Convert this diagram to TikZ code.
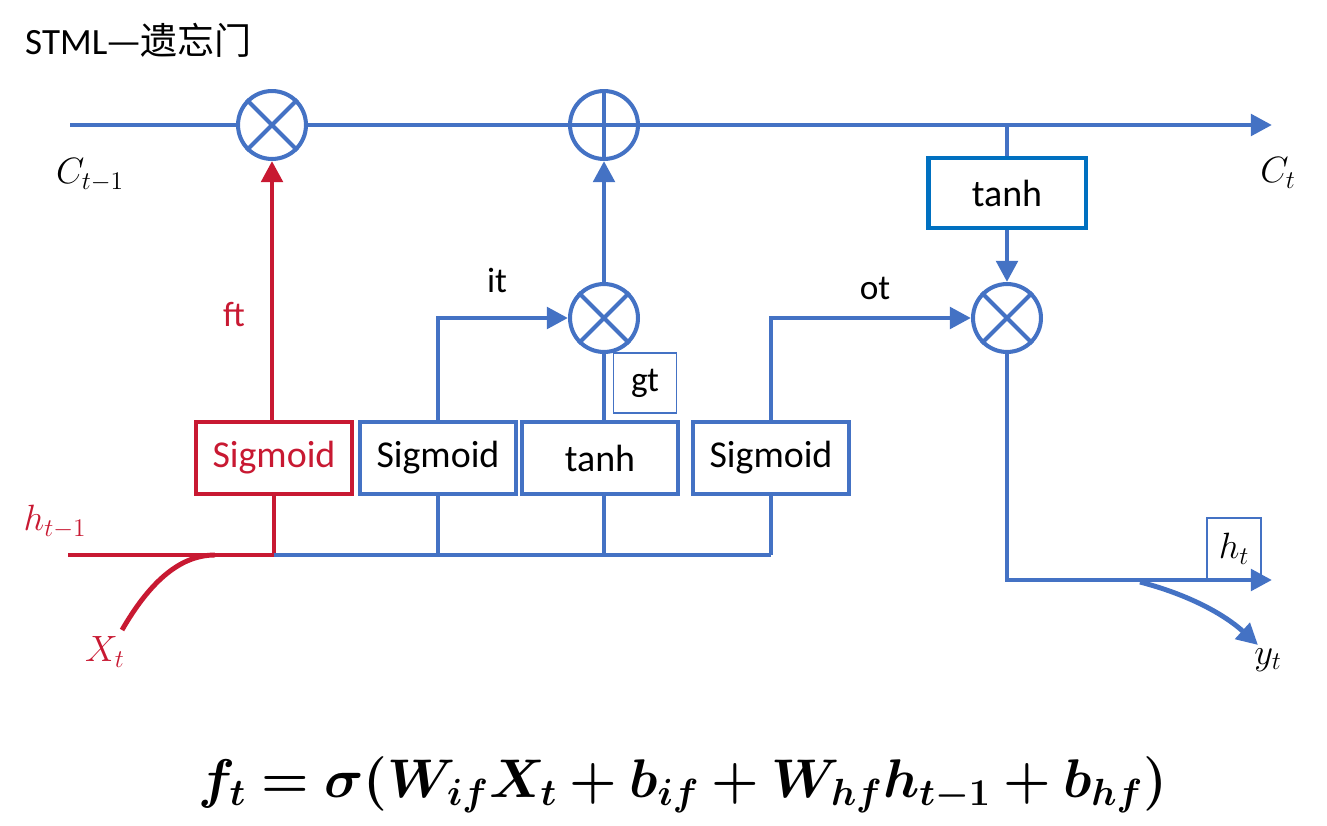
\documentclass[tikz,border=0pt]{standalone}
\usepackage[no-math]{fontspec}
\setmainfont{Carlito}
\newfontfamily\cjk{Noto Sans CJK SC}
\usepackage{amsmath}
\usepackage{bm}
\usepackage{graphicx}
\usetikzlibrary{arrows.meta}
\definecolor{lstmblue}{RGB}{68,114,196}
\definecolor{lstmred}{RGB}{200,25,50}
\definecolor{boxblue}{RGB}{0,112,192}
\tikzset{
  flow/.style={draw=lstmblue, line width=2.8pt},
  redflow/.style={draw=lstmred, line width=2.8pt},
  tip/.style={-{Triangle[length=12pt,width=12pt]}},
  gate/.style={draw=lstmblue, line width=2.3pt, minimum width=88.4pt, minimum height=40.8pt, font=\fontsize{21.5}{25}\selectfont},
  op/.style={circle, draw=lstmblue, line width=2.3pt, minimum size=38.5pt, inner sep=0pt},
  thinbox/.style={draw=lstmblue, line width=0.8pt, font=\fontsize{20}{24}\selectfont},
  lbl/.style={font=\fontsize{20}{24}\selectfont}
}
\begin{document}
\begin{tikzpicture}[x=0.5667pt, y=-0.5667pt]
\useasboundingbox (0,0) rectangle (1327,825);

%%%%------------Title----------------%%
\node [right, font=\fontsize{21}{25}\selectfont] (title) at (19,40) {STML\cjk{—遗忘门}};

%%%%------------Cell state----------------%%
\coordinate (cIn) at (70,125);
\coordinate (cOut) at (1272,125);
\coordinate (cBr) at (1007,125);
\node [op] (mulF) at (272,125) {};
\node [op] (addC) at (604,125) {};
\draw [flow] (cIn) -- (mulF.west);
\draw [flow] (mulF.east) -- (addC.west);
\draw [flow, tip] (addC.east) -- (cOut);
\draw [flow, line width=2.3pt] (mulF.north west) -- (mulF.south east);
\draw [flow, line width=2.3pt] (mulF.north east) -- (mulF.south west);
\draw [flow, line width=2.3pt] (addC.north) -- (addC.south);
\draw [flow, line width=2.3pt] (addC.west) -- (addC.east);
\node [lbl] (cPrev) at (90,175) {$C_{t-1}$};
\node [lbl] (cNext) at (1278,173) {$C_t$};

%%%%------------Gates----------------%%
\node [gate, draw=lstmred, text=lstmred] (sigF) at (274,458) {Sigmoid};
\node [gate] (sigI) at (438,458) {Sigmoid};
\node [gate] (tanhG) at (600,458) {tanh};
\node [gate] (sigO) at (771,458) {Sigmoid};
\node [gate, draw=boxblue, minimum width=89pt, minimum height=39.7pt] (tanhC) at (1007,193) {tanh};

\node [op] (mulI) at (604,318) {};
\node [op] (mulO) at (1007,318) {};
\foreach \m in {mulI,mulO} {
  \draw [flow, line width=2.3pt] (\m.north west) -- (\m.south east);
  \draw [flow, line width=2.3pt] (\m.north east) -- (\m.south west);
}

%%%%------------Forget gate (red)----------------%%
\draw [redflow, tip] (sigF.north -| mulF) -- (mulF.south);
\node [lbl, text=lstmred] (ftLbl) at (234,315) {ft};

%%%%------------Input gate----------------%%
\coordinate (iBend) at (438,318);
\draw [flow, tip] (sigI.north) -- (iBend) -- (mulI.west);
\node [lbl] (itLbl) at (497,280) {it};
\draw [flow] (mulI.south) -- (mulI.south |- tanhG.north);
\node [thinbox, minimum width=35.7pt, minimum height=34pt] (gtBox) at (645,383) {gt};
\draw [flow, tip] (mulI.north) -- (addC.south);

%%%%------------Output gate----------------%%
\coordinate (oBend) at (771,318);
\draw [flow, tip] (sigO.north) -- (oBend) -- (mulO.west);
\node [lbl] (otLbl) at (875,288) {ot};
\draw [flow] (cBr) -- (tanhC.north);
\draw [flow, tip] (tanhC.south) -- (mulO.north);

%%%%------------Input bus----------------%%
\coordinate (hIn) at (68,555);
\coordinate (jF) at (274,555);
\coordinate (jO) at (771,555);
\coordinate (xIn) at (122,630);
\coordinate (xJoin) at (215,555);
\draw [redflow] (hIn) -- (jF);
\draw [redflow] (sigF.south) -- (jF);
\draw [flow] (jF) -- (jO);
\draw [flow] (sigI.south) -- (sigI.south |- jF);
\draw [flow] (mulI.south |- tanhG.south) -- (mulI.south |- jF);
\draw [flow] (sigO.south) -- (jO);
\draw [redflow] (xIn) .. controls (148,585) and (178,555) .. (xJoin);
\node [lbl, text=lstmred] (hPrev) at (55,522) {$h_{t-1}$};
\node [lbl, text=lstmred] (xLbl) at (105,652) {$X_t$};

%%%%------------Output----------------%%
\coordinate (hBend) at (1007,580);
\coordinate (hOut) at (1272,580);
\coordinate (yFrom) at (1140,582);
\coordinate (yTo) at (1258,645);
\draw [flow, tip] (mulO.south) -- (hBend) -- (hOut);
\draw [flow, tip] (yFrom) .. controls (1190,595) and (1225,615) .. (yTo);
\node [thinbox, minimum width=30.6pt, minimum height=35pt] (htBox) at (1234,549) {$h_t$};
\node [lbl] (yLbl) at (1268,660) {$y_t$};

%%%%------------Formula----------------%%
\node [font=\fontsize{25}{30}\selectfont] (formula) at (683,785)
  {\scalebox{1.24}{$\bm{f_t = \sigma(W_{if}X_t + b_{if} + W_{hf}h_{t-1} + b_{hf})}$}};

\end{tikzpicture}
\end{document}
